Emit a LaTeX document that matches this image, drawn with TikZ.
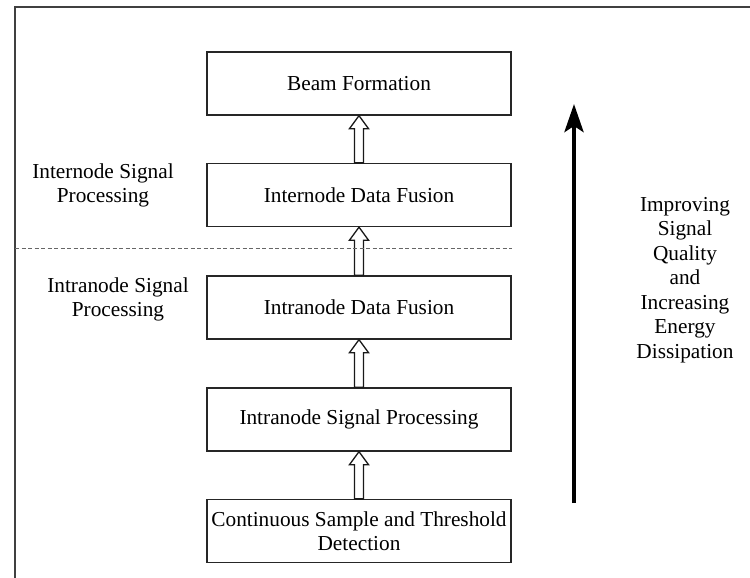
\documentclass[tikz,border=0pt]{standalone}
\usepackage{fontspec}
\setmainfont{Liberation Serif}
\usetikzlibrary{arrows.meta,calc}

\tikzset{
  stagebox/.style={draw=black!85, line width=1.3pt, minimum width=304pt,
    minimum height=63pt, inner sep=0pt, align=center},
  sidelabel/.style={align=center, inner sep=0pt},
  hollowarrow/.style={draw=black!90, fill=white, line width=1.3pt, line join=miter},
}

% hollow upward arrow from the top of one box to the bottom of the box above
\newcommand{\hollowup}[2]{%
  \path[hollowarrow]
    ($(#1.north)+(-4.5,0)$) -- ($(#2.south)+(-4.5,13)$) -- ($(#2.south)+(-9.5,13)$)
    -- (#2.south) -- ($(#2.south)+(9.5,13)$) -- ($(#2.south)+(4.5,13)$)
    -- ($(#1.north)+(4.5,0)$) -- cycle;}

\begin{document}
\begin{tikzpicture}[x=1pt, y=-1pt,
  every node/.style={font=\fontsize{21.3}{24.5}\selectfont}]
  \useasboundingbox (0,0) rectangle (750,578);

  % page frame (top and left edges only)
  \draw[black!75, line width=1.1pt] (15,578) -- (15,7) -- (750,7);

  % processing stages
  \node[stagebox] (beam)  at (359,83.5)  {Beam Formation};
  \node[stagebox] (inter) at (359,195)   {Internode Data Fusion};
  \node[stagebox] (idf)   at (359,307.5) {Intranode Data Fusion};
  \node[stagebox] (isp)   at (359,419.5) {Intranode Signal Processing};
  \node[stagebox] (cont)  at (359,531)   {Continuous Sample and Threshold\\Detection};

  % stage-to-stage arrows
  \hollowup{inter}{beam}
  \hollowup{idf}{inter}
  \hollowup{isp}{idf}
  \hollowup{cont}{isp}

  % boundary between internode and intranode processing
  \coordinate (sepL) at (15,248);
  \coordinate (sepR) at (beam.east |- sepL);
  \draw[black!60, line width=0.8pt, dash pattern=on 4pt off 2.5pt] (sepL) -- (sepR);

  % region labels
  \node[sidelabel] (interlbl) at (103,185.5) {Internode Signal\\Processing};
  \node[sidelabel] (intralbl) at (118,299.5) {Intranode Signal\\Processing};

  % trend arrow and its caption
  \coordinate (trendL) at (574,503);
  \coordinate (trendH) at (574,104);
  \draw[line width=4.3pt, -{Stealth[length=28pt, width=19pt, inset=6pt]}] (trendL) -- (trendH);
  \node[sidelabel] (trend) at (685,280)
    {Improving\\Signal\\Quality\\and\\Increasing\\Energy\\Dissipation};
\end{tikzpicture}
\end{document}
